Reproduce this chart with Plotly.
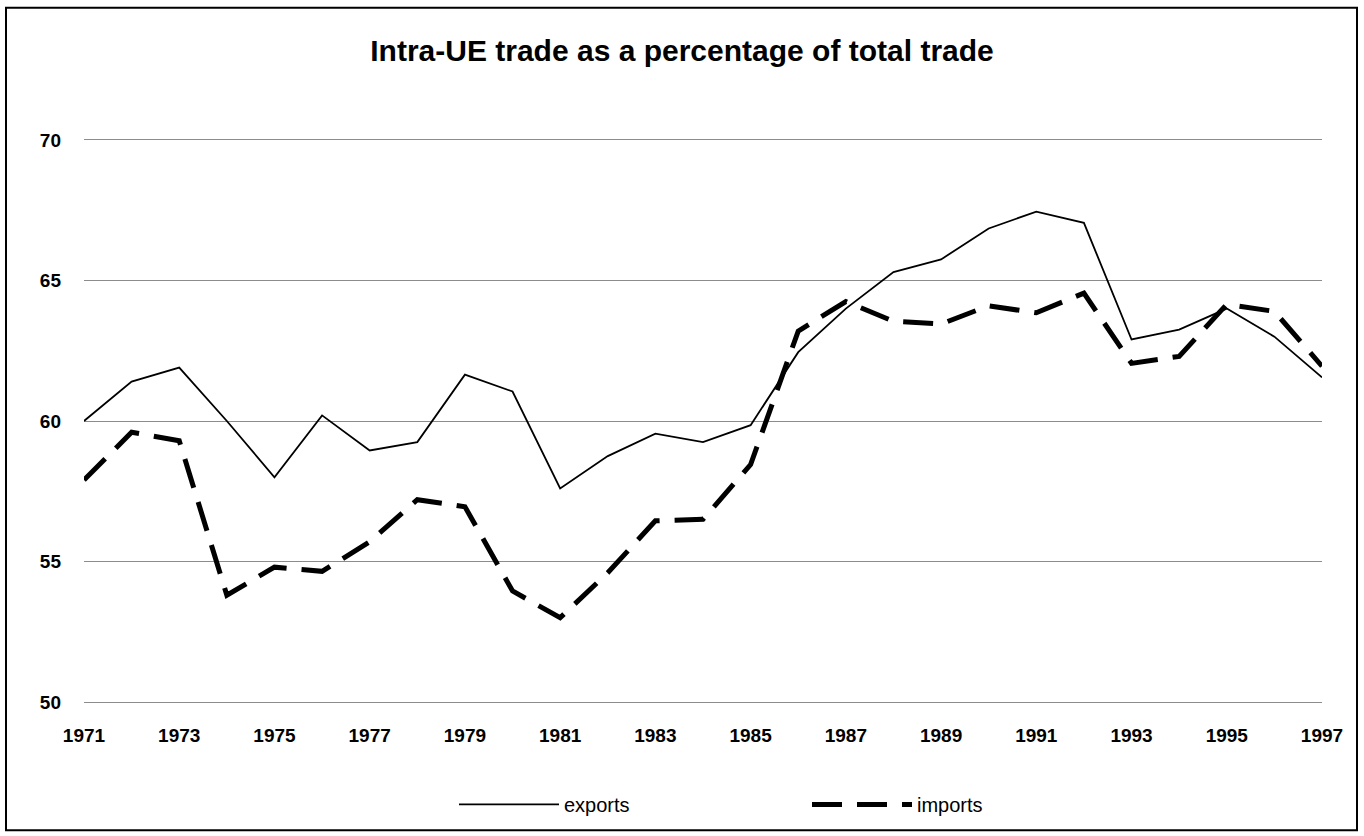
import plotly.graph_objects as go

years = list(range(1971, 1998))
exports = [60.0, 61.4, 61.9, 60.0, 58.0, 60.2, 58.95, 59.25, 61.65, 61.05,
           57.6, 58.75, 59.55, 59.25, 59.85, 62.45, 64.0, 65.3, 65.75, 66.85,
           67.45, 67.05, 62.9, 63.25, 64.0, 63.0, 61.55]
imports = [57.9, 59.6, 59.3, 53.8, 54.8, 54.65, 55.7, 57.2, 56.95, 53.95,
           53.0, 54.6, 56.45, 56.5, 58.45, 63.2, 64.25, 63.55, 63.45, 64.1,
           63.85, 64.55, 62.05, 62.3, 64.15, 63.9, 61.95]
x_ticks = list(range(1971, 1998, 2))
y_ticks = [50, 55, 60, 65, 70]
title_text = "Intra-UE trade as a percentage of total trade"

W, H = 1364, 836
L, R, T, B = 84, 42, 138, 129
pw, ph = W - L - R, H - T - B

fig = go.Figure()
fig.add_trace(go.Scatter(x=years, y=exports, mode="lines", name="exports",
                         line=dict(color="black", width=1.8)))
fig.add_trace(go.Scatter(x=years, y=imports, mode="lines", name="imports",
                         line=dict(color="black", width=5, dash="30px,15px")))

font_family = "Liberation Sans, Arial, sans-serif"

fig.update_layout(
    width=W, height=H,
    paper_bgcolor="white", plot_bgcolor="white",
    margin=dict(l=L, r=R, t=T, b=B),
    title=dict(text="<b>" + title_text + "</b>", x=0.5, xanchor="center",
               y=1 - 50 / H, yanchor="middle",
               font=dict(family=font_family, size=30, color="black")),
    showlegend=True,
    legend=dict(orientation="h", x=(454 - L) / pw, xanchor="left",
                y=-(808 - (T + ph)) / ph, yanchor="middle",
                font=dict(family=font_family, size=20, color="black"),
                entrywidth=238, itemwidth=100, bgcolor="rgba(0,0,0,0)"),
    xaxis=dict(range=[1971, 1997], tickvals=x_ticks, ticktext=[str(v) for v in x_ticks],
               showgrid=False, zeroline=False, showline=False, ticks="",
               ticklabelstandoff=18,
               tickfont=dict(family=font_family, size=19, color="black", weight="bold")),
    yaxis=dict(range=[49.93, 70.07], tickvals=y_ticks, showgrid=True, gridcolor="#8c8c8c",
               gridwidth=1, zeroline=False, showline=False, ticks="",
               ticklabelstandoff=22,
               tickfont=dict(family=font_family, size=19, color="black", weight="bold")),
)

# outer border of the figure
fig.add_shape(type="rect", xref="paper", yref="paper",
              x0=(6 - L) / pw, x1=(1357 - L) / pw,
              y0=-(834 - (T + ph)) / ph, y1=1 + (T - 7) / ph,
              line=dict(color="black", width=2), fillcolor="rgba(0,0,0,0)", layer="below")

fig.write_html("out.html", config={"displayModeBar": False},
               post_script="document.body.style.margin='0px';document.body.style.overflow='hidden';")
